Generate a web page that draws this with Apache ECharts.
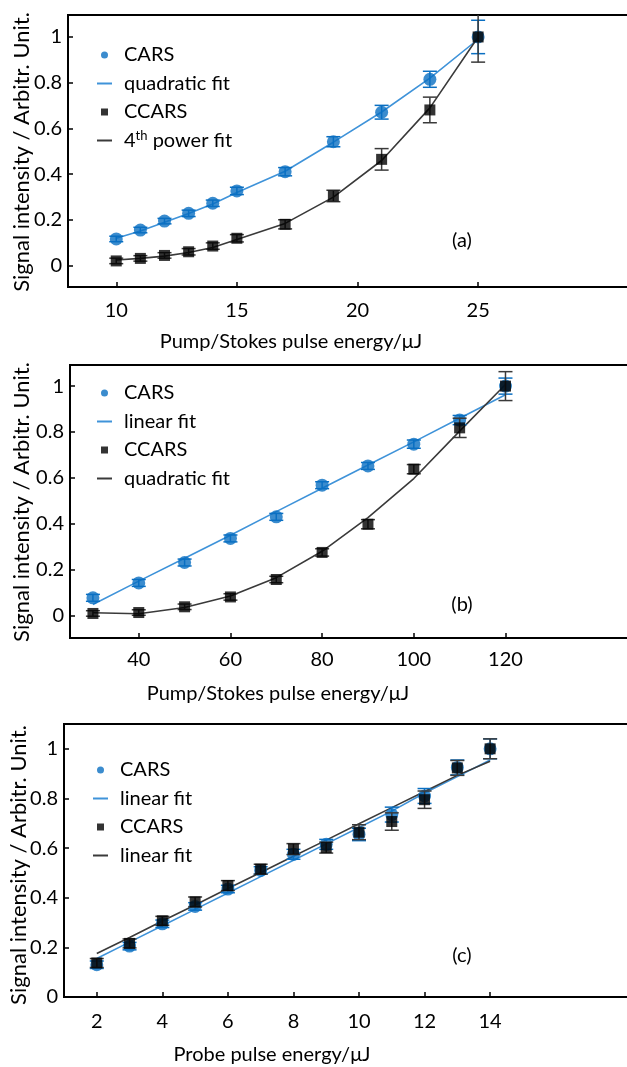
<!DOCTYPE html>
<html>
<head>
<meta charset="utf-8">
<script src="https://cdn.jsdelivr.net/npm/echarts@6/dist/echarts.min.js"></script>
<style>
  html, body { margin: 0; padding: 0; background: #fff; }
  #chart { width: 627px; height: 1067px; }
</style>
</head>
<body>
<div id="chart"></div>
<script>
// ---- panel (a) ----
const xA = [10, 11, 12, 13, 14, 15, 17, 19, 21, 23, 25];
const carsA = [0.117, 0.156, 0.195, 0.229, 0.273, 0.327, 0.411, 0.542, 0.671, 0.815, 1.0];
const carsErrA = [0.012, 0.012, 0.012, 0.014, 0.014, 0.016, 0.018, 0.022, 0.03, 0.035, 0.073];
const carsFitA = [0.12, 0.152, 0.19, 0.228, 0.27, 0.32, 0.413, 0.54, 0.672, 0.82, 0.99];
const ccarsA = [0.021, 0.032, 0.045, 0.061, 0.086, 0.12, 0.181, 0.305, 0.465, 0.681, 1.0];
const ccarsErrA = [0.012, 0.012, 0.012, 0.014, 0.014, 0.016, 0.02, 0.025, 0.047, 0.056, 0.11];
const ccarsFitA = [0.025, 0.032, 0.042, 0.058, 0.08, 0.115, 0.185, 0.3, 0.46, 0.69, 1.0];

// ---- panel (b) ----
const xB = [30, 40, 50, 60, 70, 80, 90, 100, 110, 120];
const carsB = [0.077, 0.142, 0.231, 0.336, 0.43, 0.568, 0.652, 0.747, 0.852, 1.0];
const carsErrB = [0.015, 0.015, 0.015, 0.015, 0.015, 0.015, 0.015, 0.018, 0.02, 0.035];
const carsFitB = [0.048, 0.15, 0.25, 0.35, 0.453, 0.555, 0.656, 0.757, 0.86, 0.962];
const ccarsB = [0.009, 0.013, 0.038, 0.081, 0.157, 0.275, 0.398, 0.638, 0.818, 1.0];
const ccarsErrB = [0.012, 0.012, 0.012, 0.014, 0.014, 0.016, 0.02, 0.02, 0.042, 0.063];
const ccarsFitB = [0.012, 0.008, 0.035, 0.085, 0.165, 0.28, 0.427, 0.597, 0.804, 1.007];

// ---- panel (c) ----
const xC = [2, 3, 4, 5, 6, 7, 8, 9, 10, 11, 12, 13, 14];
const carsC = [0.13, 0.205, 0.295, 0.365, 0.435, 0.51, 0.575, 0.615, 0.655, 0.735, 0.81, 0.925, 1.0];
const carsErrC = [0.015, 0.015, 0.015, 0.015, 0.015, 0.015, 0.02, 0.02, 0.025, 0.03, 0.03, 0.03, 0.04];
const carsFitC = [0.155, 0.221, 0.287, 0.353, 0.419, 0.485, 0.551, 0.617, 0.683, 0.749, 0.822, 0.888, 0.955];
const ccarsC = [0.137, 0.216, 0.307, 0.383, 0.449, 0.515, 0.596, 0.602, 0.664, 0.707, 0.795, 0.923, 1.0];
const ccarsErrC = [0.018, 0.018, 0.018, 0.02, 0.02, 0.02, 0.022, 0.022, 0.03, 0.035, 0.035, 0.03, 0.04];
const ccarsFitC = [0.175, 0.24, 0.306, 0.371, 0.437, 0.502, 0.567, 0.632, 0.698, 0.763, 0.828, 0.893, 0.95];

const yTicks = [0, 0.2, 0.4, 0.6, 0.8, 1];
const xTicksA = [10, 15, 20, 25];
const xTicksB = [40, 60, 80, 100, 120];
const xTicksC = [2, 4, 6, 8, 10, 12, 14];

const FONT = 'Lato';
const BLUE = '#0a6fc2';
const BLUE_LINE = '#3f93d9';
const BLACK = '#000';
const BLACK_LINE = '#3a3a3a';

function pairs(xs, ys, errs) {
  return xs.map((x, i) => errs ? [x, ys[i], errs[i]] : [x, ys[i]]);
}

function errorBar(color) {
  return function (params, api) {
    let x = api.value(0), y = api.value(1), e = api.value(2);
    let top = api.coord([x, y + e]);
    let bot = api.coord([x, y - e]);
    let w = 7;
    let style = {stroke: color, lineWidth: 1.5};
    return {
      type: 'group',
      children: [
        {type: 'line', shape: {x1: top[0], y1: top[1], x2: bot[0], y2: bot[1]}, style: style},
        {type: 'line', shape: {x1: top[0] - w, y1: top[1], x2: top[0] + w, y2: top[1]}, style: style},
        {type: 'line', shape: {x1: bot[0] - w, y1: bot[1], x2: bot[0] + w, y2: bot[1]}, style: style}
      ]
    };
  };
}

// series for one panel
function panelSeries(idx, xs, cars, carsErr, carsFit, ccars, ccarsErr, ccarsFit, fitNames) {
  return [
    {name: fitNames[0], type: 'line', xAxisIndex: idx, yAxisIndex: idx, data: pairs(xs, carsFit),
      symbol: 'none', lineStyle: {color: BLUE_LINE, width: 1.6}, itemStyle: {color: BLUE_LINE}, z: 2},
    {name: fitNames[1], type: 'line', xAxisIndex: idx, yAxisIndex: idx, data: pairs(xs, ccarsFit),
      symbol: 'none', lineStyle: {color: BLACK_LINE, width: 1.6}, itemStyle: {color: BLACK_LINE}, z: 2},
    {type: 'custom', xAxisIndex: idx, yAxisIndex: idx, data: pairs(xs, cars, carsErr),
      renderItem: errorBar(BLUE), clip: true, z: 3},
    {name: 'CARS', type: 'scatter', xAxisIndex: idx, yAxisIndex: idx, data: pairs(xs, cars),
      symbol: 'circle', symbolSize: 13, itemStyle: {color: BLUE}, z: 4},
    {type: 'custom', xAxisIndex: idx, yAxisIndex: idx, data: pairs(xs, ccars, ccarsErr),
      renderItem: errorBar(BLACK_LINE), clip: true, z: 5},
    {name: 'CCARS', type: 'scatter', xAxisIndex: idx, yAxisIndex: idx, data: pairs(xs, ccars),
      symbol: 'rect', symbolSize: 11, itemStyle: {color: BLACK}, z: 6}
  ];
}

function xAxis(idx, min, max, ticks, margin) {
  return {
    type: 'value', gridIndex: idx, min: min, max: max,
    splitLine: {show: false},
    axisLine: {show: true, onZero: false, lineStyle: {color: '#000', width: 2}},
    axisTick: {show: true, inside: true, length: 5, customValues: ticks, lineStyle: {color: '#000', width: 1.5}},
    axisLabel: {customValues: ticks, margin: margin, color: '#000', fontFamily: FONT, fontSize: 20}
  };
}

function yAxis(idx, min, max) {
  return {
    type: 'value', gridIndex: idx, min: min, max: max,
    splitLine: {show: false},
    axisLine: {show: true, onZero: false, lineStyle: {color: '#000', width: 2}},
    axisTick: {show: true, inside: true, length: 5, customValues: yTicks, lineStyle: {color: '#000', width: 1.5}},
    axisLabel: {customValues: yTicks, margin: 6, color: '#000', fontFamily: FONT, fontSize: 20,
      formatter: v => String(Math.round(v * 10) / 10)}
  };
}

const lineIcon = 'path://M0,0h15v2h-15z';
const squareIcon = 'path://M0,0h1v1h-1z';

function legend(left, top, fitNames) {
  return {
    orient: 'vertical', left: left, top: top, padding: 0,
    itemWidth: 15, itemHeight: 7, itemGap: 6.5,
    selectedMode: false,
    textStyle: {color: '#000', fontFamily: FONT, fontSize: 20, lineHeight: 22, padding: [0, 0, 0, 7],
      rich: {sup: {fontFamily: FONT, fontSize: 13, verticalAlign: 'top', padding: [0, 0, 9, 0]}}},
    formatter: name => name === '4th power fit' ? '4{sup|th} power fit' : name.trim(),
    data: [
      {name: 'CARS', icon: 'circle', itemStyle: {color: BLUE}},
      {name: fitNames[0], icon: lineIcon, itemStyle: {color: BLUE_LINE}},
      {name: 'CCARS', icon: squareIcon, itemStyle: {color: BLACK}},
      {name: fitNames[1], icon: lineIcon, itemStyle: {color: BLACK_LINE}}
    ]
  };
}

function text(x, y, str, rot) {
  return {type: 'text', x: x, y: y, rotation: rot || 0,
    style: {text: str, fill: '#000', font: (rot ? 22 : 20) + 'px ' + FONT, align: 'center', verticalAlign: 'middle'}};
}

const gridBox = {show: true, borderColor: '#000', borderWidth: 2, outerBoundsMode: 'none', containLabel: false};
const yTitle = 'Signal intensity / Arbitr. Unit.';

const option = {
  animation: false,
  grid: [
    Object.assign({left: 68, top: 15, width: 579, height: 272}, gridBox),
    Object.assign({left: 70, top: 365, width: 573, height: 273}, gridBox),
    Object.assign({left: 64, top: 724, width: 590, height: 273}, gridBox)
  ],
  xAxis: [
    xAxis(0, 8, 32, xTicksA, 14),
    xAxis(1, 25, 150, xTicksB, 12),
    xAxis(2, 1, 19, xTicksC, 15)
  ],
  yAxis: [
    yAxis(0, -0.093, 1.096),
    yAxis(1, -0.098, 1.092),
    yAxis(2, 0, 1.1)
  ],
  legend: [
    legend(97, 44, ['quadratic fit', '4th power fit']),
    legend(97, 382, ['linear fit', 'quadratic fit ']),
    legend(93, 759, ['linear fit', 'linear fit '])
  ],
  graphic: [
    text(291, 342, 'Pump/Stokes pulse energy/\u03bcJ'),
    text(278, 694, 'Pump/Stokes pulse energy/\u03bcJ'),
    text(272, 1055, 'Probe pulse energy/\u03bcJ'),
    text(22, 152, yTitle, Math.PI / 2),
    text(22, 502, yTitle, Math.PI / 2),
    text(19, 865, yTitle, Math.PI / 2),
    text(462, 241, '(a)'),
    text(462, 605, '(b)'),
    text(462, 956, '(c)')
  ],
  series: [].concat(
    panelSeries(0, xA, carsA, carsErrA, carsFitA, ccarsA, ccarsErrA, ccarsFitA, ['quadratic fit', '4th power fit']),
    panelSeries(1, xB, carsB, carsErrB, carsFitB, ccarsB, ccarsErrB, ccarsFitB, ['linear fit', 'quadratic fit ']),
    panelSeries(2, xC, carsC, carsErrC, carsFitC, ccarsC, ccarsErrC, ccarsFitC, ['linear fit', 'linear fit '])
  )
};

const chart = echarts.init(document.getElementById('chart'));
chart.setOption(option);
</script>
</body>
</html>
